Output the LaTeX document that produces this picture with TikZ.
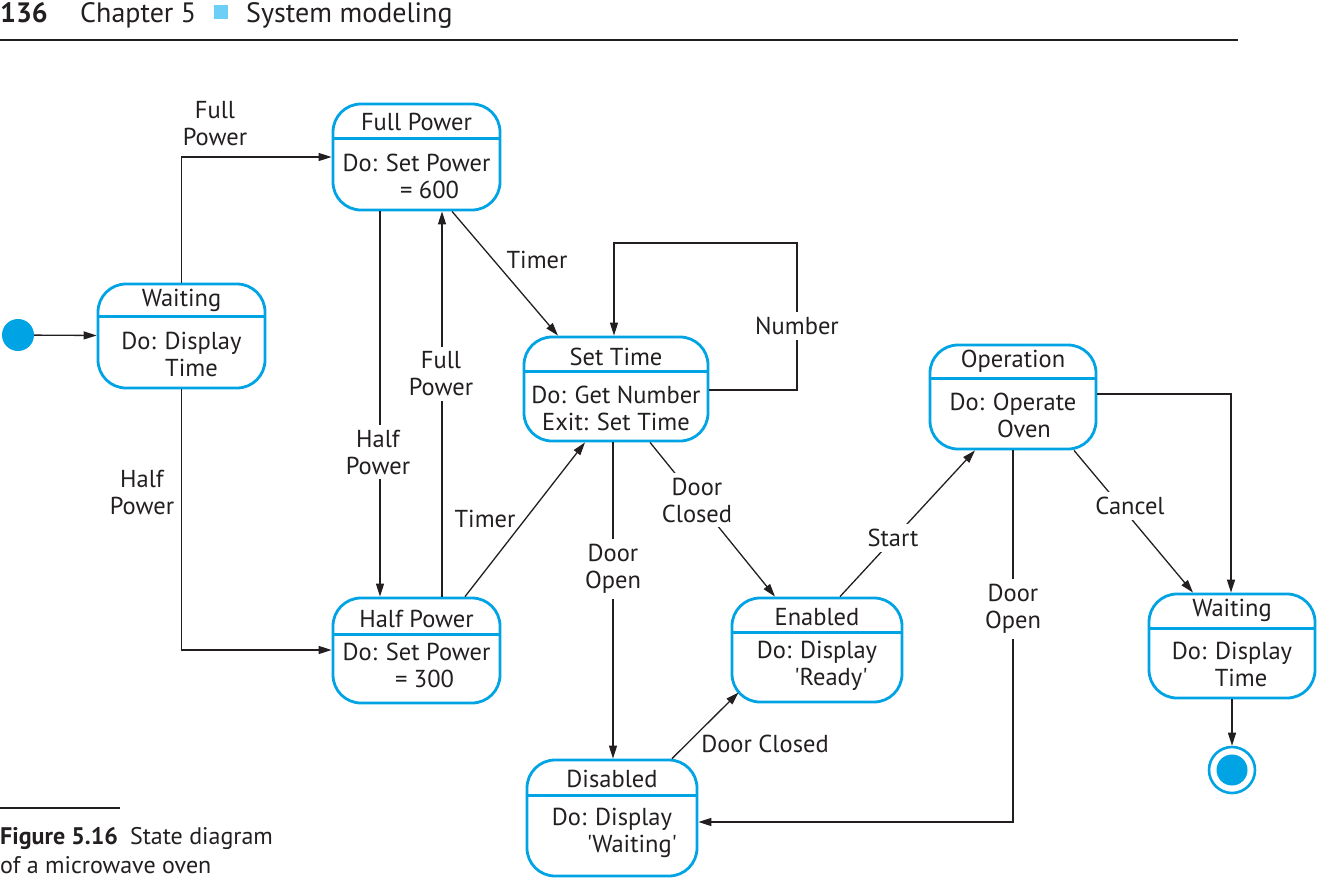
\documentclass[tikz,border=0pt]{standalone}
\usepackage{fontspec}
\setmainfont{PT Sans}
\definecolor{stateblue}{HTML}{00A3E4}
\definecolor{headblue}{HTML}{6DCFF6}
\definecolor{inkgray}{HTML}{231F20}
\usetikzlibrary{arrows.meta,positioning}

\begin{document}
\begin{tikzpicture}[x=1pt, y=-1pt,
  state/.style={draw=stateblue, line width=2.8pt, rounded corners=28pt, fill=white},
  divider/.style={draw=stateblue, line width=2.4pt},
  stitle/.style={font=\fontsize{24.5}{27}\selectfont, text=inkgray, inner sep=0pt},
  sbody/.style={font=\fontsize{24.5}{27}\selectfont, text=inkgray, align=center, inner sep=0pt},
  lbl/.style={font=\fontsize{24.5}{27}\selectfont, text=inkgray, align=center, inner sep=3pt},
  onwire/.style={lbl, fill=white, inner sep=5pt},
  arr/.style={-{Triangle[length=13pt, width=8pt]}, line width=1.3pt, draw=inkgray},
  dot/.style={circle, fill=stateblue, inner sep=0pt}
]
  \useasboundingbox (0,0) rectangle (1317,881);

  % page header and caption
  \node[anchor=base west, inner sep=0pt, font=\fontsize{28}{32}\selectfont\bfseries, text=inkgray] (pagenum) at (0,22) {136};
  \node[anchor=base west, inner sep=0pt, font=\fontsize{28}{32}\selectfont, text=inkgray] (chap) at (80,22) {Chapter 5};
  \node[fill=headblue, minimum size=14pt, inner sep=0pt] (chapbox) at (221,12) {};
  \node[anchor=base west, inner sep=0pt, font=\fontsize{28}{32}\selectfont, text=inkgray] (chaptitle) at (246,22) {System modeling};
  \coordinate (ruleA) at (0,40);
  \coordinate (ruleB) at (1238,40);
  \draw[line width=1.3pt, inkgray] (ruleA) -- (ruleB);
  \coordinate (capA) at (0,808);
  \coordinate (capB) at (120,808);
  \draw[line width=1.1pt, inkgray] (capA) -- (capB);
  \node[anchor=base west, inner sep=0pt, align=left, font=\fontsize{24}{29}\selectfont, text=inkgray] (caption) at (0,873)
    {\textbf{Figure 5.16}\enspace State diagram\\of a microwave oven};

  % states
  \node[state, minimum width=167pt, minimum height=104pt] (waitL) at (181.5,336) {};
  \node[state, minimum width=167pt, minimum height=106pt] (fullP) at (416.5,157) {};
  \node[state, minimum width=167pt, minimum height=105pt] (halfP) at (416.5,650.5) {};
  \node[state, minimum width=184pt, minimum height=104pt] (setT) at (616,389) {};
  \node[state, minimum width=170pt, minimum height=104pt] (enabled) at (817,650) {};
  \node[state, minimum width=170pt, minimum height=116pt] (disabled) at (612,818) {};
  \node[state, minimum width=166pt, minimum height=104pt] (oper) at (1013,397) {};
  \node[state, minimum width=166pt, minimum height=104pt] (waitR) at (1232,646) {};

  \draw[divider] ([yshift=-34pt]waitL.north west) -- ([yshift=-34pt]waitL.north east);
  \draw[divider] ([yshift=-36pt]fullP.north west) -- ([yshift=-36pt]fullP.north east);
  \draw[divider] ([yshift=-38pt]halfP.north west) -- ([yshift=-38pt]halfP.north east);
  \draw[divider] ([yshift=-36pt]setT.north west) -- ([yshift=-36pt]setT.north east);
  \draw[divider] ([yshift=-36pt]enabled.north west) -- ([yshift=-36pt]enabled.north east);
  \draw[divider] ([yshift=-37pt]disabled.north west) -- ([yshift=-37pt]disabled.north east);
  \draw[divider] ([yshift=-35pt]oper.north west) -- ([yshift=-35pt]oper.north east);
  \draw[divider] ([yshift=-36pt]waitR.north west) -- ([yshift=-36pt]waitR.north east);

  \node[stitle] (waitLt) at (181.5,300) {Waiting};
  \node[sbody] (waitLb) at (181.5,354) {Do: Display\\\hspace*{20pt}Time};
  \node[stitle] (fullPt) at (416.5,122) {Full Power};
  \node[sbody] (fullPb) at (416.5,176) {Do: Set Power\\\hspace*{26pt}= 600};
  \node[stitle] (halfPt) at (416.5,619) {Half Power};
  \node[sbody] (halfPb) at (416.5,665) {Do: Set Power\\\hspace*{16pt}= 300};
  \node[stitle] (setTt) at (616,357) {Set Time};
  \node[sbody] (setTb) at (616,408) {Do: Get Number\\Exit: Set Time};
  \node[stitle] (enabledt) at (817,617) {Enabled};
  \node[sbody] (enabledb) at (817,666) {Do: Display\\\hspace*{28pt}\textquotesingle Ready\textquotesingle};
  \node[stitle] (disabledt) at (612,779) {Disabled};
  \node[sbody] (disabledb) at (612,833) {Do: Display\\\hspace*{40pt}\textquotesingle Waiting\textquotesingle};
  \node[stitle] (opert) at (1013,361) {Operation};
  \node[sbody] (operb) at (1013,415) {Do: Operate\\\hspace*{22pt}Oven};
  \node[stitle] (waitRt) at (1232,610) {Waiting};
  \node[sbody] (waitRb) at (1232,664) {Do: Display\\\hspace*{18pt}Time};

  % pseudo states
  \node[dot, minimum size=32pt] (init) at (18,335) {};
  \node[circle, draw=stateblue, line width=2.6pt, fill=white, minimum size=46pt, inner sep=0pt] (final) at (1232,770) {};
  \node[dot, minimum size=31pt] (finalIn) at (1232,770) {};

  % transitions
  \draw[arr] (init) -- (waitL);
  \draw[arr] (waitL.north) |- (fullP.west);
  \draw[arr] (waitL.south) |- ([yshift=0.5pt]halfP.west);
  \draw[arr] ([xshift=-36.5pt]fullP.south) -- ([xshift=-36.5pt]halfP.north);
  \draw[arr] ([xshift=25.5pt]halfP.north) -- ([xshift=25.5pt]fullP.south);
  \draw[arr] ([xshift=35.5pt]fullP.south) -- ([xshift=-58pt]setT.north);
  \draw[arr] ([xshift=48.5pt]halfP.north) -- ([xshift=-31pt]setT.south);
  \coordinate (loopR) at (797,243);
  \draw[arr] ([yshift=-1pt]setT.east) -| (loopR) -| ([xshift=-2pt]setT.north);
  \draw[arr] ([xshift=-3pt]setT.south) -- ([xshift=-3pt]setT.south |- disabled.north);
  \draw[arr] ([xshift=34pt]setT.south) -- ([xshift=-42pt]enabled.north);
  \draw[arr] ([xshift=60pt]disabled.north) -- ([xshift=8pt, yshift=11pt]enabled.south west);
  \draw[arr] ([xshift=23pt]enabled.north) -- ([xshift=-38pt]oper.south);
  \draw[arr] (oper.south) |- ([yshift=-4pt]disabled.east);
  \draw[arr] ([yshift=3pt]oper.east) -| ([xshift=-1pt]waitR.north);
  \draw[arr] ([xshift=61pt]oper.south) -- ([xshift=-39pt]waitR.north);
  \draw[arr] (waitR.south) -- (final);

  % transition labels
  \node[lbl] (lFullA) at (215,124) {Full\\Power};
  \node[lbl] (lHalfA) at (142,492) {Half\\Power};
  \node[onwire] (lHalfB) at (378,452) {Half\\Power};
  \node[onwire] (lFullB) at (441,374) {Full\\Power};
  \node[lbl] (lTimerA) at (537,260) {Timer};
  \node[lbl] (lTimerB) at (485,519) {Timer};
  \node[onwire] (lNumber) at (797,326) {Number};
  \node[onwire] (lOpenA) at (613,569) {Door\\Open};
  \node[onwire] (lClosedA) at (697,500) {Door\\Closed};
  \node[lbl] (lClosedB) at (765,744) {Door Closed};
  \node[onwire] (lStart) at (893,538) {Start};
  \node[onwire] (lOpenB) at (1013,609) {Door\\Open};
  \node[onwire] (lCancel) at (1130,506) {Cancel};
\end{tikzpicture}
\end{document}
